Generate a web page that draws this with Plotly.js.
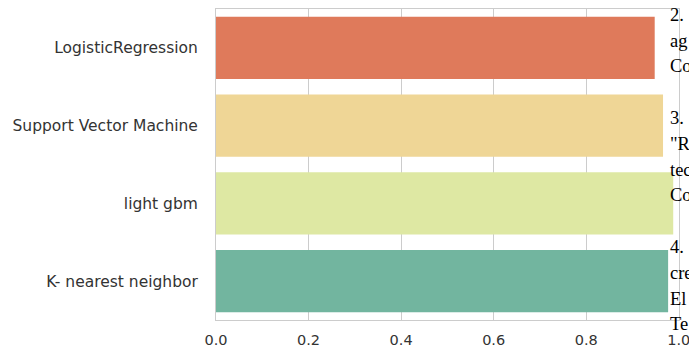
<!DOCTYPE html>
<html>
<head>
<meta charset="utf-8">
<script src="https://cdn.plot.ly/plotly-3.0.1.min.js"></script>
<style>html,body{margin:0;padding:0;background:#fff;overflow:hidden}#chart{width:689px;height:349px}</style>
</head>
<body>
<div id="chart"></div>
<script>
// Data
var models = ['LogisticRegression', 'Support Vector Machine', 'light gbm', 'K- nearest neighbor'];
var scores = [0.948, 0.966, 0.988, 0.977];
var barColors = ['#df7a5b', '#efd696', '#dee8a3', '#72b59f'];
var xTickVals = [0, 0.2, 0.4, 0.6, 0.8, 1.0];
var xTickText = ['0.0', '0.2', '0.4', '0.6', '0.8', '1.0'];
// overlapping (clipped) side text lines, blank entries are empty lines
var sideLines = ['2.', 'ag', 'Co', '', '3.', '"R', 'tec', 'Co', '', '4.', 'cre', 'El', 'Te'];

var W = 689, H = 349;
var m = {l: 216, r: 10, t: 9, b: 29};
var plotH = H - m.t - m.b, plotW = W - m.l - m.r;

var trace = {
  type: 'bar',
  orientation: 'h',
  y: models,
  x: scores,
  width: 0.8,
  marker: {color: barColors, line: {width: 0}},
  hoverinfo: 'none'
};

var annotations = [];
var firstBaseline = 20.7, lineStep = 25.8, fs = 18.5;
sideLines.forEach(function (t, i) {
  if (!t) return;
  var baseline = firstBaseline + i * lineStep;
  var centerPx = baseline - fs * 0.32;
  annotations.push({
    xref: 'paper', yref: 'paper',
    x: (668 - m.l) / plotW,
    y: (H - m.b - centerPx) / plotH,
    xanchor: 'left', yanchor: 'middle',
    text: t, showarrow: false,
    font: {family: '"Liberation Serif", "Times New Roman", serif', size: fs, color: '#000'}
  });
});

var layout = {
  width: W, height: H,
  margin: m,
  paper_bgcolor: '#fff', plot_bgcolor: '#fff',
  showlegend: false,
  font: {family: '"DejaVu Sans", sans-serif', color: '#333333'},
  xaxis: {
    range: [0, 1.0005],
    tickvals: xTickVals, ticktext: xTickText,
    showgrid: true, gridcolor: '#cccccc', gridwidth: 1,
    zeroline: false,
    showline: true, linecolor: '#cccccc', linewidth: 1, mirror: true,
    ticks: '', ticklabelstandoff: 7, ticklabeloverflow: 'allow',
    tickfont: {size: 14.5, color: '#333333'}
  },
  yaxis: {
    autorange: 'reversed',
    showgrid: false, zeroline: false,
    showline: true, linecolor: '#cccccc', linewidth: 1, mirror: true,
    ticks: '', ticklabelstandoff: 14,
    tickfont: {size: 15.5, color: '#333333'}
  },
  annotations: annotations
};

Plotly.newPlot('chart', [trace], layout, {staticPlot: true, displayModeBar: false});
</script>
</body>
</html>
